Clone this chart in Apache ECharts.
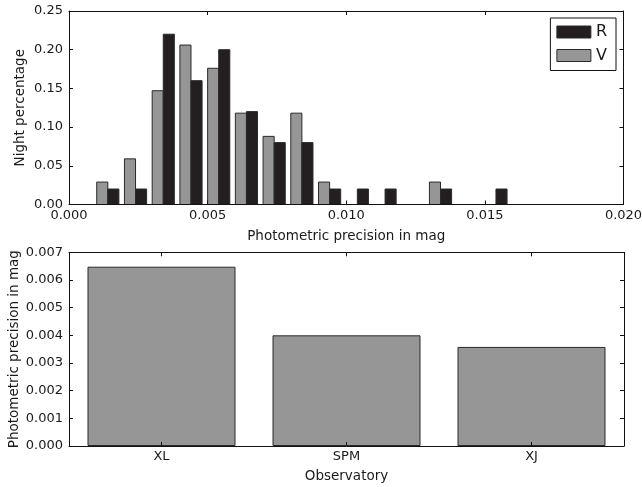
<!DOCTYPE html>
<html>
<head>
<meta charset="utf-8">
<script src="https://cdn.jsdelivr.net/npm/echarts@6/dist/echarts.min.js"></script>
<style>
  html, body { margin: 0; padding: 0; background: #ffffff; }
  #chart { width: 642px; height: 487px; }
</style>
</head>
<body>
<div id="chart"></div>
<script>
// Histogram of nightly photometric precision (fraction of nights per 0.001 mag bin)
const binEdges = [0.0009, 0.0019, 0.0029, 0.0039, 0.0049, 0.0059, 0.0069, 0.0079, 0.0089, 0.0099,
                  0.0109, 0.0119, 0.0129, 0.0139, 0.0149, 0.0159, 0.0169, 0.0179, 0.0189];
const binWidth = 0.001;
const nightR = [0.020, 0.020, 0.220, 0.160, 0.200, 0.120, 0.080, 0.080, 0.020, 0.020,
                0.020, 0.000, 0.020, 0.000, 0.020, 0.000, 0.000, 0.000, 0.000];
const nightV = [0.029, 0.059, 0.147, 0.206, 0.176, 0.118, 0.088, 0.118, 0.029, 0.000,
                0.000, 0.000, 0.029, 0.000, 0.000, 0.000, 0.000, 0.000, 0.000];

// Mean precision per observatory
const observatories = ['XL', 'SPM', 'XJ'];
const precision = [0.00648, 0.00400, 0.00358];

const colorR = '#231f20';
const colorV = '#969696';
const edge = '#2a2a2a';
const ink = '#1a1a1a';
const font = 'DejaVu Sans';

// Draw one bar of a grouped histogram bin, spanning [startFrac, endFrac] of the bin width
function histBar(startFrac, endFrac, fill) {
  return function (params, api) {
    const x0 = api.value(0);
    const h = api.value(1);
    const p0 = api.coord([x0 + startFrac * binWidth, h]);
    const p1 = api.coord([x0 + endFrac * binWidth, 0]);
    return {
      type: 'rect',
      shape: { x: p0[0], y: p0[1], width: p1[0] - p0[0], height: p1[1] - p0[1] },
      style: { fill: fill, stroke: edge, lineWidth: 1 }
    };
  };
}

const axisLine = { show: true, onZero: false, lineStyle: { color: '#111', width: 1 } };
const tickIn = { show: true, inside: true, length: 4, lineStyle: { color: '#111', width: 1 } };
const labelStyle = { color: ink, fontFamily: font, fontSize: 13 };
const nameStyle = { color: ink, fontFamily: font, fontSize: 13.5 };

const chart = echarts.init(document.getElementById('chart'), null, { renderer: 'canvas' });

chart.setOption({
  animation: false,
  backgroundColor: '#ffffff',
  grid: [
    { left: 69, right: 18.5, top: 11, height: 193.5, containLabel: false, outerBoundsMode: 'none' },
    { left: 69, right: 18, top: 252.3, height: 193.7, containLabel: false, outerBoundsMode: 'none' }
  ],
  legend: {
    right: 26, top: 18,
    orient: 'vertical',
    align: 'left',
    icon: 'rect',
    itemWidth: 34, itemHeight: 12, itemGap: 7.5,
    padding: [6, 9, 7, 6],
    borderColor: '#111', borderWidth: 1,
    backgroundColor: '#ffffff',
    textStyle: { color: ink, fontFamily: font, fontSize: 16 },
    data: [
      { name: 'R', itemStyle: { color: colorR, borderColor: edge, borderWidth: 1 } },
      { name: 'V', itemStyle: { color: colorV, borderColor: edge, borderWidth: 1 } }
    ]
  },
  xAxis: [
    {
      type: 'value', gridIndex: 0, position: 'bottom', z: 5,
      min: 0, max: 0.02, interval: 0.005,
      name: 'Photometric precision in mag', nameLocation: 'middle', nameGap: 25,
      nameMoveOverlap: false,
      nameTextStyle: nameStyle,
      axisLine: axisLine, axisTick: tickIn, splitLine: { show: false },
      axisLabel: Object.assign({ margin: 5, formatter: v => v.toFixed(3) }, labelStyle)
    },
    {
      type: 'value', gridIndex: 0, position: 'top', z: 5,
      min: 0, max: 0.02, interval: 0.005,
      axisLine: axisLine, axisTick: tickIn, splitLine: { show: false },
      axisLabel: { show: false }
    },
    {
      type: 'category', gridIndex: 1, position: 'bottom', z: 5,
      data: observatories, boundaryGap: true,
      name: 'Observatory', nameLocation: 'middle', nameGap: 23,
      nameMoveOverlap: false,
      nameTextStyle: nameStyle,
      axisLine: axisLine,
      axisTick: Object.assign({ alignWithLabel: true }, tickIn),
      axisLabel: Object.assign({ margin: 4 }, labelStyle)
    },
    {
      type: 'category', gridIndex: 1, position: 'top', z: 5,
      data: observatories, boundaryGap: true,
      axisLine: axisLine,
      axisTick: Object.assign({ alignWithLabel: true }, tickIn),
      axisLabel: { show: false }
    }
  ],
  yAxis: [
    {
      type: 'value', gridIndex: 0, position: 'left', z: 5,
      min: 0, max: 0.25, interval: 0.05,
      name: 'Night percentage', nameLocation: 'middle', nameRotate: 90, nameGap: 42,
      nameMoveOverlap: false,
      nameTextStyle: nameStyle,
      axisLine: axisLine, axisTick: tickIn, splitLine: { show: false },
      axisLabel: Object.assign({ margin: 6, formatter: v => v.toFixed(2) }, labelStyle)
    },
    {
      type: 'value', gridIndex: 0, position: 'right', z: 5,
      min: 0, max: 0.25, interval: 0.05,
      axisLine: axisLine, axisTick: tickIn, splitLine: { show: false },
      axisLabel: { show: false }
    },
    {
      type: 'value', gridIndex: 1, position: 'left', z: 5,
      min: 0, max: 0.007, interval: 0.001,
      name: 'Photometric precision in mag', nameLocation: 'middle', nameRotate: 90, nameGap: 48,
      nameMoveOverlap: false,
      nameTextStyle: nameStyle,
      axisLine: axisLine, axisTick: tickIn, splitLine: { show: false },
      axisLabel: Object.assign({ margin: 6, formatter: v => v.toFixed(3) }, labelStyle)
    },
    {
      type: 'value', gridIndex: 1, position: 'right', z: 5,
      min: 0, max: 0.007, interval: 0.001,
      axisLine: axisLine, axisTick: tickIn, splitLine: { show: false },
      axisLabel: { show: false }
    }
  ],
  series: [
    {
      name: 'V', type: 'custom', xAxisIndex: 0, yAxisIndex: 0,
      itemStyle: { color: colorV },
      renderItem: histBar(0.1, 0.5, colorV),
      encode: { x: 0, y: 1 },
      data: binEdges.map((e, i) => [e, nightV[i]])
    },
    {
      name: 'R', type: 'custom', xAxisIndex: 0, yAxisIndex: 0,
      itemStyle: { color: colorR },
      renderItem: histBar(0.5, 0.9, colorR),
      encode: { x: 0, y: 1 },
      data: binEdges.map((e, i) => [e, nightR[i]])
    },
    {
      name: 'Precision', type: 'bar', xAxisIndex: 2, yAxisIndex: 2,
      barWidth: '80%',
      itemStyle: { color: colorV, borderColor: edge, borderWidth: 1 },
      data: precision
    }
  ]
});
</script>
</body>
</html>
